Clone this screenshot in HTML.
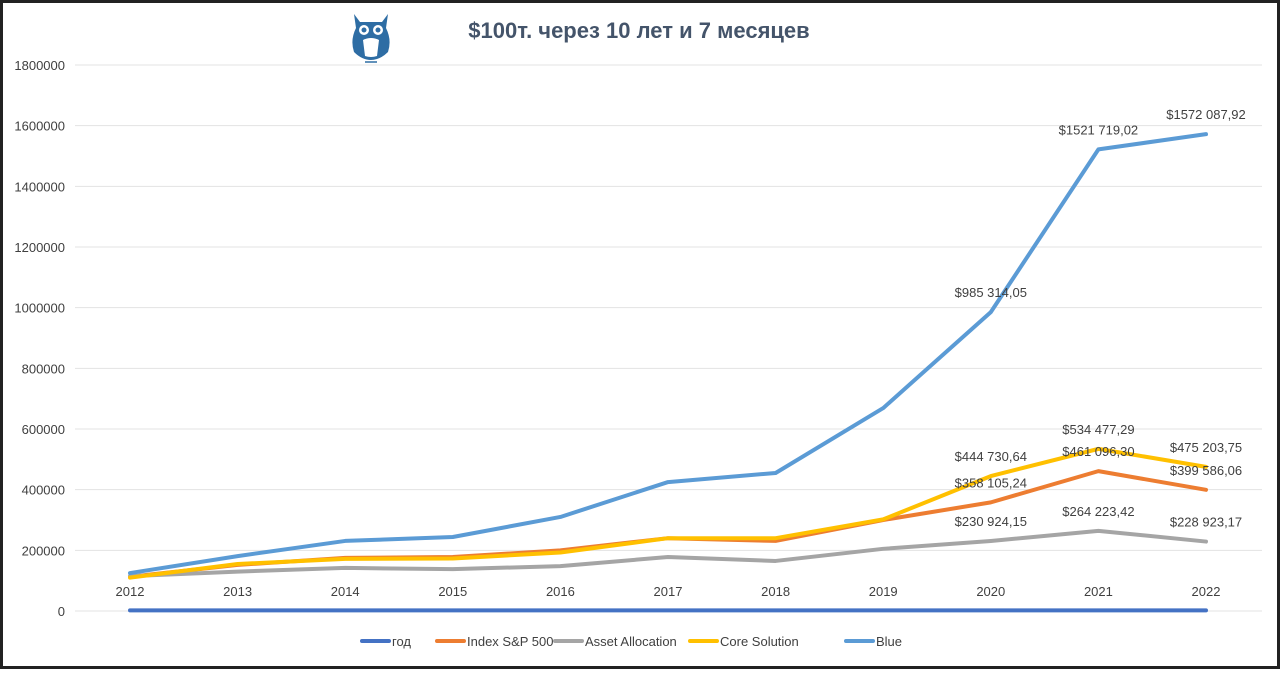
<!DOCTYPE html>
<html><head><meta charset="utf-8"><style>
html,body{margin:0;padding:0;background:#fff}
body{width:1280px;height:669px;overflow:hidden;font-family:"Liberation Sans","DejaVu Sans",sans-serif}
svg text{font-family:"Liberation Sans","DejaVu Sans",sans-serif}
</style></head><body>
<svg id="chart" width="1280" height="669" viewBox="0 0 1280 669" xmlns="http://www.w3.org/2000/svg">
<rect x="1.5" y="1.5" width="1277" height="666" fill="#fff" stroke="#222" stroke-width="3"/>
<g id="grid"></g><g id="yticks"></g><g id="xticks"></g><g id="series"></g><g id="labels"></g><g id="legend"></g>
<g>
<path d="M354 14 L360 22 L382 22 L388 14 L386 28 Q392 40 388 52 Q380 60 371 60 Q362 60 354 52 Q350 40 356 28 Z" fill="#2e6da4"/>
<circle cx="364" cy="30" r="5" fill="#fff"/><circle cx="378" cy="30" r="5" fill="#fff"/>
<circle cx="364" cy="30" r="2.5" fill="#2e6da4"/><circle cx="378" cy="30" r="2.5" fill="#2e6da4"/>
<path d="M363 40 Q371 36 379 40 L377 56 Q371 58 365 56 Z" fill="#fff"/>
<line x1="365" y1="62" x2="377" y2="62" stroke="#2e6da4" stroke-width="1.5"/>
</g>
<text x="639" y="38" text-anchor="middle" font-size="22" font-weight="bold" fill="#44546a">$100т. через 10 лет и 7 месяцев</text>
</svg>
<script>
const years=["2012","2013","2014","2015","2016","2017","2018","2019","2020","2021","2022"];
const yTicks=[0,200000,400000,600000,800000,1000000,1200000,1400000,1600000,1800000];
const godVals=[2012,2013,2014,2015,2016,2017,2018,2019,2020,2021,2022];
const spVals=[113000,152000,175000,178000,200000,240000,231000,300000,358105.24,461096.30,399586.06];
const assetVals=[115000,130000,142000,138000,148000,178000,165000,205000,230924.15,264223.42,228923.17];
const coreVals=[110000,155000,172000,173000,193000,240000,240000,302000,444730.64,534477.29,475203.75];
const blueVals=[125000,181000,231000,244000,310000,425000,455000,669000,985314.05,1521719.02,1572087.92];
const spLabels=[null,null,null,null,null,null,null,null,"$358 105,24","$461 096,30","$399 586,06"];
const assetLabels=[null,null,null,null,null,null,null,null,"$230 924,15","$264 223,42","$228 923,17"];
const coreLabels=[null,null,null,null,null,null,null,null,"$444 730,64","$534 477,29","$475 203,75"];
const blueLabels=[null,null,null,null,null,null,null,null,"$985 314,05","$1521 719,02","$1572 087,92"];
const NS="http://www.w3.org/2000/svg";
const X=i=>130+i*(1206-130)/10;
const Y=v=>611-v*546/1800000;
function mk(t,a,p){const e=document.createElementNS(NS,t);for(const k in a)e.setAttribute(k,a[k]);p.appendChild(e);return e;}
const grid=document.getElementById('grid'),yt=document.getElementById('yticks'),xt=document.getElementById('xticks');
yTicks.forEach(v=>{
 const l=mk('line',{x1:75,x2:1262,y1:Y(v),y2:Y(v),stroke:'#e3e3e3','stroke-width':1},grid);
 
 
 const t=mk('text',{x:65,y:Y(v)+5,'text-anchor':'end','font-size':13,fill:'#404040'},yt);
 t.textContent=v;
 
 
});
years.forEach((y,i)=>{
 const t=mk('text',{x:X(i),y:596,'text-anchor':'middle','font-size':13,fill:'#404040'},xt);
 t.textContent=y;
 
 
});
const series=[
 {name:'год',vals:godVals,col:'#4472c4',labels:null,key:'god'},
 {name:'Index S&P 500',vals:spVals,col:'#ed7d31',labels:spLabels,key:'sp500'},
 {name:'Asset Allocation',vals:assetVals,col:'#a5a5a5',labels:assetLabels,key:'asset-allocation'},
 {name:'Core Solution',vals:coreVals,col:'#ffc000',labels:coreLabels,key:'core-solution'},
 {name:'Blue',vals:blueVals,col:'#5b9bd5',labels:blueLabels,key:'blue'}
];
const sg=document.getElementById('series'),lg=document.getElementById('labels'),leg=document.getElementById('legend');
series.forEach(s=>{
 const p=mk('polyline',{points:s.vals.map((v,i)=>X(i)+','+Y(v)).join(' '),fill:'none',stroke:s.col,'stroke-width':4,'stroke-linejoin':'round','stroke-linecap':'round'},sg);
 
 
});
series.forEach(s=>{
 if(!s.labels)return;
 s.labels.forEach((lb,i)=>{
  if(!lb)return;
  const t=mk('text',{x:X(i),y:Y(s.vals[i])-15,'text-anchor':'middle','font-size':13,fill:'#404040'},lg);
  t.textContent=lb;
  
  
 });
});
const legX=[362,437,555,690,846];
series.forEach((s,i)=>{
 const g=mk('g',{},leg);
 
 
 mk('line',{x1:legX[i],x2:legX[i]+27,y1:641,y2:641,stroke:s.col,'stroke-width':4,'stroke-linecap':'round'},g);
 const t=mk('text',{x:legX[i]+30,y:646,'font-size':13,fill:'#404040'},g);
 t.textContent=s.name;
});
</script>
</body></html>
